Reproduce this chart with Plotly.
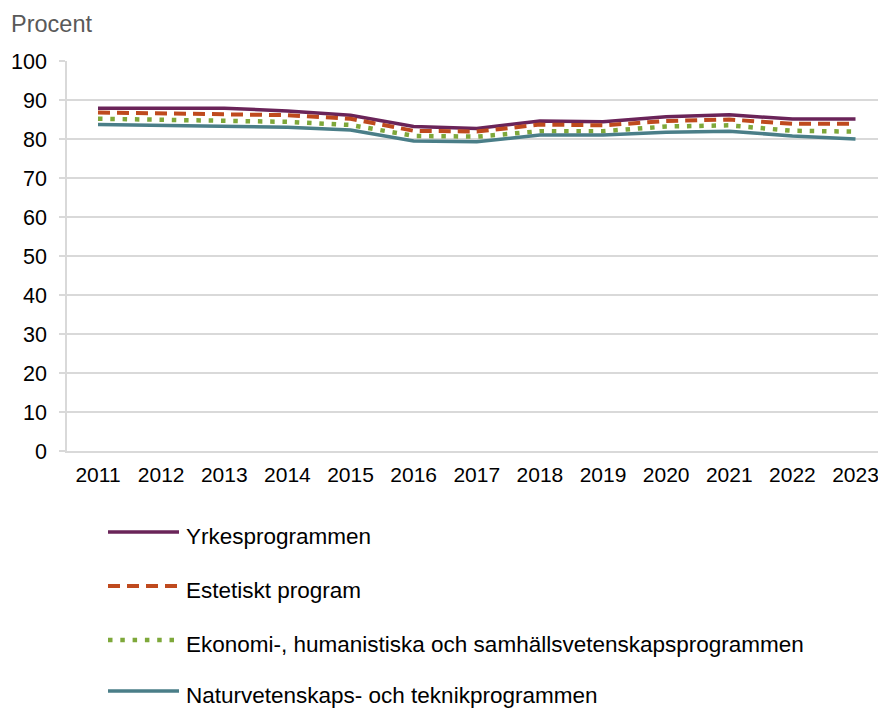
import plotly.graph_objects as go

years = [2011, 2012, 2013, 2014, 2015, 2016, 2017, 2018, 2019, 2020, 2021, 2022, 2023]
year_labels = [str(y) for y in years]
yrkes = [87.9, 87.8, 87.9, 87.2, 86.1, 83.2, 82.7, 84.6, 84.4, 85.7, 86.2, 85.1, 85.1]
estetiskt = [86.8, 86.6, 86.5, 86.1, 85.2, 82.1, 81.9, 83.7, 83.5, 84.6, 85.0, 83.9, 83.9]
ekonomi = [85.2, 85.0, 84.8, 84.4, 83.6, 80.8, 80.6, 82.0, 82.0, 83.2, 83.5, 82.1, 81.9]
natur = [83.7, 83.5, 83.3, 83.0, 82.3, 79.5, 79.3, 81.0, 81.0, 81.7, 82.0, 80.8, 80.0]

names = ["Yrkesprogrammen", "Estetiskt program",
         "Ekonomi-, humanistiska och samhällsvetenskapsprogrammen",
         "Naturvetenskaps- och teknikprogrammen"]
series = [yrkes, estetiskt, ekonomi, natur]
colors = ["#6A2459", "#BF4A1E", "#7EA83A", "#4A7E88"]
dashes = ["solid", "12px,7px", "4.5px,7.8px", "solid"]
widths = [3.5, 4, 4.5, 3.5]

OFF = 8  # default body margin of the html page
W, H = 886 - OFF, 710 - OFF
L, R = 67 - OFF, 0
T = 61 - OFF
B = H - (450.7 - OFF)
plot_w = W - L - R
plot_h = H - T - B

def px_x(px):
    return (px - OFF - L) / plot_w

def px_y(py):
    return (H - B - (py - OFF)) / plot_h

# x-range: 2011 at page x=98, 2023 at page x=855.5
unit = (855.5 - 98) / 12.0
x0 = 2011 - (98 - 67) / unit
x1 = x0 + plot_w / unit

FONT = "Liberation Sans, Arial, sans-serif"

fig = go.Figure()
for name, vals, c, d, w in zip(names, series, colors, dashes, widths):
    fig.add_trace(go.Scatter(x=years, y=vals, mode="lines", name=name,
                             line=dict(color=c, width=w, dash=d),
                             showlegend=False, hoverinfo="skip"))

# custom legend
shapes = []
annotations = []
row_y = [531.7, 585.5, 639.5, 690.5]
for name, c, d, w, ly in zip(names, colors, dashes, widths, row_y):
    shapes.append(dict(type="line", xref="paper", yref="paper",
                       x0=px_x(108), x1=px_x(179), y0=px_y(ly), y1=px_y(ly),
                       line=dict(color=c, width=w, dash=d)))
    annotations.append(dict(text=name, xref="paper", yref="paper",
                            x=px_x(184), y=px_y(ly + 4.5), xanchor="left", yanchor="middle",
                            showarrow=False, font=dict(family=FONT, size=22.5, color="#000000")))

annotations.append(dict(text="Procent", xref="paper", yref="paper",
                        x=px_x(9), y=px_y(24.5), xanchor="left", yanchor="middle",
                        showarrow=False, font=dict(family=FONT, size=23.5, color="#595959")))

fig.update_layout(
    width=W, height=H,
    margin=dict(l=L, r=R, t=T, b=B, pad=0),
    paper_bgcolor="white", plot_bgcolor="white",
    shapes=shapes, annotations=annotations,
    font=dict(family=FONT, color="#000000"),
    xaxis=dict(range=[x0, x1], tickmode="array", tickvals=years,
               ticktext=year_labels, showgrid=False, zeroline=False,
               showline=True, linecolor="#D9D9D9", linewidth=1.5,
               ticks="", tickfont=dict(size=21, family=FONT),
               ticklabelstandoff=4, ticklabeloverflow="allow",
               fixedrange=True),
    yaxis=dict(range=[0, 100], tickmode="array", tickvals=list(range(0, 101, 10)),
               showgrid=True, gridcolor="#D9D9D9", gridwidth=1.5,
               zeroline=False, showline=True, linecolor="#D9D9D9", linewidth=1.5,
               ticks="outside", ticklen=6, tickcolor="#D9D9D9", tickwidth=1.5,
               tickfont=dict(size=21.5, family=FONT), ticklabelstandoff=8,
               fixedrange=True),
)

fig.write_html("out.html")
